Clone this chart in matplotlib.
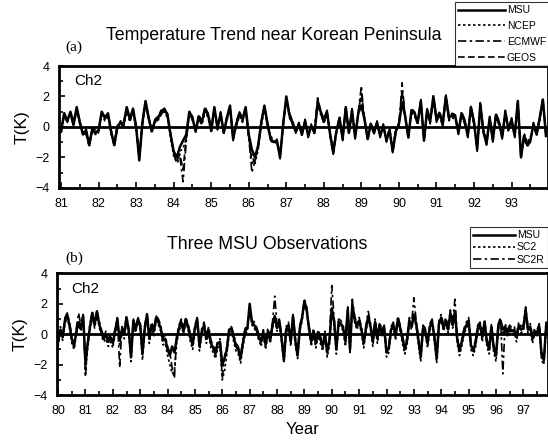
import numpy as np
import matplotlib
matplotlib.use("Agg")
import matplotlib.pyplot as plt
from matplotlib.ticker import MultipleLocator

plt.rcParams['font.family'] = ['Liberation Sans', 'DejaVu Sans']

# monthly Ch2 anomalies (K), 1981-1993
msu_a = [-0.3, 0.9, 0.4, 1.0, 0.2, 1.3, 0.3, -0.5, -0.2, -1.2, -0.1, -0.4,
         -0.2, 1.0, 0.6, 0.9, -0.3, -1.2, 0.0, 0.3, 0.2, 1.3, 0.5, 1.2,
         0.0, -2.2, 0.3, 1.7, 0.6, -0.3, 0.4, 0.6, 1.0, 1.2, 0.8, -0.5,
         -1.6, -2.0, -1.3, -0.9, -0.5, 1.0, 0.6, -0.3, 0.7, 0.3, 1.2, 0.8,
         -0.2, 1.3, -0.1, 0.9, -0.4, 0.6, 1.4, -0.8, 0.2, 0.9, 0.5, 1.3,
         -0.5, -1.5, -2.0, -1.2, 0.3, 1.4, 0.2, -0.8, -1.0, -0.9, -2.0, 0.2,
         2.0, 0.8, 0.3, -0.3, 0.2, -0.5, 0.4, -0.6, 0.1, -0.4, 1.5, 1.0,
         0.4, 1.0, -0.5, -1.7, -0.3, 0.6, -0.8, 1.3, -0.4, 1.1, -0.7, 0.9,
         1.4, 0.5, -0.8, 0.2, -0.4, 0.3, -0.6, 0.1, -0.9, -0.2, -1.6, -0.3,
         0.2, 1.6, 0.7, -0.7, 1.1, 0.9, 0.3, 1.7, -0.9, 1.1, 0.4, 2.0,
         0.5, 0.9, 0.2, 2.0, 0.6, 0.8, 0.7, -0.4, 0.9, 0.4, -0.6, 1.3,
         0.3, -1.5, 1.5, -0.3, -1.1, 0.6, -0.9, 0.8, 0.3, -0.7, 1.0, -0.2,
         0.5, -0.6, 1.7, -2.0, -0.6, -1.2, -0.9, 0.2, -0.5, 0.6, 1.8, -0.6]
ncep_a = [-0.1, 0.7, 0.3, 0.9, 0.1, 1.1, 0.2, -0.3, -0.4, -1.0, 0.0, -0.2,
          -0.4, 0.8, 0.4, 0.7, -0.5, -1.0, 0.1, 0.2, 0.0, 1.1, 0.4, 1.0,
          -0.2, -1.9, 0.2, 1.5, 0.5, -0.1, 0.3, 0.4, 0.9, 1.0, 0.6, -0.7,
          -1.9, -2.3, -1.6, -1.4, -0.8, 0.8, 0.5, -0.1, 0.5, 0.2, 1.0, 0.6,
          -0.4, 1.1, 0.0, 0.7, -0.2, 0.4, 1.2, -0.6, 0.0, 0.7, 0.4, 1.1,
          -0.8, -1.9, -2.4, -1.5, 0.1, 1.2, 0.1, -0.6, -0.9, -1.1, -1.8, 0.0,
          1.8, 0.7, 0.1, -0.2, 0.0, -0.3, 0.2, -0.4, 0.0, -0.2, 1.6, 0.8,
          0.3, 0.8, -0.3, -1.5, -0.1, 0.5, -0.6, 1.1, -0.2, 0.9, -0.5, 0.8,
          1.9, 0.4, -0.6, 0.0, -0.2, 0.2, -0.4, 0.0, -0.7, -0.1, -1.4, -0.1,
          0.1, 2.2, 0.5, -0.5, 0.9, 0.7, 0.2, 1.5, -0.7, 0.9, 0.3, 1.8,
          0.4, 0.7, 0.1, 1.8, 0.5, 0.6, 0.5, -0.2, 0.7, 0.3, -0.4, 1.1,
          0.2, -1.3, 1.3, -0.2, -0.9, 0.4, -0.7, 0.6, 0.2, -0.5, 0.9, 0.0,
          0.3, -0.4, 1.5, -1.8, -0.4, -1.0, -0.7, 0.1, -0.3, 0.4, 1.6, -0.4]
ecmwf_a = [-0.2, 0.8, 0.3, 0.8, 0.0, 1.2, 0.2, -0.4, -0.5, -1.3, -0.2, -0.3,
           -0.3, 0.9, 0.5, 0.8, -0.4, -1.1, 0.0, 0.1, 0.1, 1.2, 0.3, 1.1,
           -0.1, -2.0, 0.1, 1.6, 0.4, -0.2, 0.2, 0.5, 0.8, 1.1, 0.7, -0.6,
           -1.8, -2.4, -2.0, -3.6, -1.0, 0.9, 0.4, -0.2, 0.6, 0.1, 1.1, 0.7,
           -0.3, 1.2, -0.2, 0.8, -0.3, 0.5, 1.3, -0.7, 0.1, 0.8, 0.3, 1.2,
           -0.7, -3.0, -2.2, -1.4, 0.2, 1.3, 0.0, -0.7, -1.1, -1.0, -1.9, 0.1,
           1.9, 0.6, 0.2, -0.4, 0.1, -0.4, 0.3, -0.5, 0.0, -0.3, 1.9, 0.9,
           0.2, 0.9, -0.4, -1.6, -0.2, 0.4, -0.7, 1.2, -0.3, 1.0, -0.6, 1.0,
           2.7, 0.3, -0.7, 0.1, -0.3, 0.1, -0.5, 0.0, -0.8, -0.3, -1.5, -0.2,
           0.0, 2.9, 0.6, -0.6, 1.0, 0.8, 0.1, 1.6, -0.8, 1.0, 0.2, 1.9,
           0.3, 0.8, 0.0, 1.9, 0.4, 0.7, 0.6, -0.3, 0.8, 0.2, -0.5, 1.2,
           0.1, -1.4, 1.4, -0.4, -1.0, 0.5, -0.8, 0.7, 0.1, -0.6, 0.8, -0.1,
           0.4, -0.5, 1.6, -1.9, -0.5, -1.1, -0.8, 0.0, -0.4, 0.5, 1.7, -0.5]
geos_a = [-0.4, 0.8, 0.5, 0.9, 0.3, 1.2, 0.4, -0.4, -0.3, -1.1, -0.2, -0.5,
          -0.3, 0.9, 0.7, 0.8, -0.2, -1.3, -0.1, 0.4, 0.3, 1.2, 0.6, 1.1,
          0.1, -2.1, 0.4, 1.6, 0.7, -0.4, 0.5, 0.7, 1.1, 1.1, 0.9, -0.4,
          -1.7, -2.2, -1.8, -2.8, -0.7, 0.9, 0.7, -0.4, 0.8, 0.4, 1.3, 0.9,
          -0.1, 1.2, 0.0, 1.0, -0.5, 0.7, 1.3, -0.9, 0.3, 1.0, 0.6, 1.2,
          -0.6, -2.4, -2.1, -1.3, 0.4, 1.3, 0.3, -0.9, -1.1, -0.8, -2.1, 0.3,
          1.9, 0.9, 0.4, -0.4, 0.3, -0.6, 0.5, -0.7, 0.2, -0.5, 1.9, 1.1,
          0.5, 1.1, -0.6, -1.8, -0.4, 0.7, -0.9, 1.4, -0.5, 1.2, -0.8, 1.0,
          2.2, 0.6, -0.9, 0.3, -0.5, 0.4, -0.7, 0.2, -1.0, -0.3, -1.7, -0.4,
          0.3, 2.4, 0.8, -0.8, 1.2, 1.0, 0.4, 1.8, -1.0, 1.2, 0.5, 2.1,
          0.6, 1.0, 0.3, 2.1, 0.7, 0.9, 0.8, -0.5, 1.0, 0.5, -0.7, 1.4,
          0.4, -1.6, 1.6, -0.4, -1.2, 0.7, -1.0, 0.9, 0.4, -0.8, 1.1, -0.3,
          0.6, -0.7, 1.8, -2.1, -0.7, -1.3, -1.0, 0.3, -0.6, 0.7, 1.9, -0.7]

# monthly Ch2 anomalies (K), 1980-1997
msu_b = [-0.5, 0.3, -0.2, 0.9, 1.3, 0.6, -0.3, -0.8, 0.2, 0.8, 0.4, 1.2,
         -1.8, -0.6, 0.5, 1.4, 0.6, 1.5, 0.7, 0.1, -0.3, 0.0, -0.5, -0.2,
         -0.6, 0.2, 1.0, -0.4, 0.3, 0.0, 1.1, 0.2, -1.5, 0.9, 0.3, 1.0,
         0.6, -1.3, 0.4, 1.3, -0.3, 0.6, 0.2, 1.1, 0.8, 0.4, -0.4, -0.3,
         -1.0, -1.4, -0.8, -1.2, -0.3, 0.4, 0.8, 0.2, 1.0, 0.5, -0.2, -0.7,
         0.4, 1.0, -0.8, 0.2, 0.6, -0.3, 0.3, -0.6, -0.9, -1.3, -0.6, -0.5,
         -2.0, -1.6, -1.0, 0.3, 0.4, -0.2, -0.8, -1.0, -1.6, -0.6, 0.2, 0.4,
         2.0, 0.8, 0.6, 0.3, -0.2, -0.5, 0.1, -0.7, 0.2, -0.4, 0.6, 1.2,
         0.4, 0.9, -0.3, -1.7, 0.3, 0.6, -0.5, 1.2, -0.4, -1.4, 0.4, 1.1,
         2.2, 1.6, 0.4, -0.5, 0.2, -0.6, 0.1, -0.3, -0.8, 0.0, -1.2, -0.4,
         1.7, 0.9, -1.0, 0.8, 0.7, 0.4, -0.5, 1.6, -1.0, 2.0, 1.0, 0.5,
         0.9, 0.3, -0.6, 0.4, 1.2, 0.5, -0.5, 0.8, -0.3, 0.6, 0.1, 0.4,
         -1.2, -0.9, 0.3, 0.6, -0.1, 1.0, 0.4, -0.3, -1.0, -0.4, 0.9, 0.5,
         1.3, 0.7, -0.4, -1.5, 0.4, 0.2, -0.6, 0.5, 0.8, -0.2, -1.6, 0.7,
         1.1, 0.4, 0.9, 0.3, 1.4, 0.6, 1.5, -0.3, -1.1, -0.5, 0.2, 0.6,
         0.9, -0.7, -1.1, -0.6, 0.4, 0.6, -0.2, 0.8, -0.5, -1.0, 0.5, -0.9,
         -1.4, 0.5, 0.9, 0.3, 0.5, 0.1, 0.4, 0.2, 0.3, -0.2, 0.6, 0.3,
         0.4, 1.6, 0.3, 0.5, -0.3, 0.2, 0.1, 0.5, -1.4, -1.7, 0.6, 0.3]
sc2_b = [-0.8, 0.1, -0.4, 0.7, 1.1, 0.4, -0.6, -1.0, 0.0, 0.6, 0.2, 1.0,
         -2.6, -0.9, 0.3, 1.2, 0.4, 1.3, 0.5, -0.1, -0.5, -0.3, -0.8, -0.5,
         -0.9, 0.0, 0.8, -0.7, 0.1, -0.3, 0.9, 0.0, -1.8, 0.7, 0.1, 0.8,
         0.3, -1.7, 0.2, 1.1, -0.6, 0.4, -0.1, 0.9, 0.6, 0.2, -0.7, -0.6,
         -1.4, -2.0, -2.6, -2.4, -0.6, 0.2, 0.6, 0.0, 0.8, 0.3, -0.5, -1.0,
         0.2, 0.8, -1.1, 0.0, 0.4, -0.6, 0.1, -0.9, -1.2, -1.6, -0.9, -0.8,
         -3.0, -2.4, -1.3, 0.1, 0.2, -0.5, -1.1, -1.3, -1.9, -0.9, 0.0, 0.2,
         1.8, 0.6, 0.4, 0.1, -0.4, -0.8, -0.1, -1.0, 0.0, -0.6, 0.4, 1.0,
         0.2, 0.7, -0.5, -1.9, 0.1, 0.4, -0.8, 1.0, -0.7, -1.6, 0.2, 0.9,
         2.0, 1.4, 0.2, -0.8, 0.0, -0.9, -0.1, -0.6, -1.1, -0.2, -1.5, -0.7,
         1.5, 0.7, -1.3, 0.6, 0.5, 0.2, -0.8, 1.4, -1.3, 1.8, 0.8, 0.3,
         0.7, 0.1, -0.9, 0.2, 1.0, 0.3, -0.8, 0.6, -0.6, 0.4, -0.1, 0.2,
         -1.5, -1.2, 0.1, 0.4, -0.4, 0.8, 0.2, -0.6, -1.3, -0.7, 0.7, 0.3,
         1.1, 0.5, -0.7, -1.8, 0.2, 0.0, -0.9, 0.3, 0.6, -0.5, -1.9, 0.5,
         0.9, 0.2, 0.7, 0.1, 1.2, 0.4, 1.3, -0.6, -1.4, -0.8, 0.0, 0.4,
         0.7, -1.0, -1.4, -0.9, 0.2, 0.4, -0.5, 0.6, -0.8, -1.3, 0.3, -1.2,
         -1.8, 0.3, 0.7, 0.1, 0.3, -0.1, 0.2, 0.0, 0.1, -0.5, 0.4, 0.1,
         0.2, 1.4, 0.1, 0.3, -0.6, 0.0, -0.1, 0.3, -1.7, -2.0, 0.4, 0.1]
sc2r_b = [-0.3, 0.5, 0.0, 1.1, 1.4, 0.8, -0.1, -0.6, 0.4, 1.4, 0.6, 1.3,
          -2.8, -0.4, 0.7, 1.5, 0.8, 1.6, 0.9, 0.3, -0.1, 0.2, -0.3, -0.1,
          -0.4, 0.4, 1.1, -2.2, 0.5, 0.2, 1.2, 0.4, -1.3, 1.0, 0.5, 1.1,
          0.8, -1.1, 0.6, 1.4, -0.1, 0.8, 0.4, 1.2, 1.0, 0.6, -0.2, -0.1,
          -0.8, -1.2, -2.2, -2.9, -0.1, 0.6, 1.0, 0.4, 1.1, 0.7, 0.0, -0.5,
          0.6, 1.1, -0.6, 0.4, 0.8, -0.1, 0.5, -0.4, -0.7, -1.1, -0.4, -0.3,
          -2.9, -1.4, -0.8, 0.4, 0.5, 0.0, -0.6, -0.8, -1.4, -0.4, 0.4, 0.5,
          1.3, 1.0, 0.8, 0.5, 0.0, -0.3, 0.3, -0.5, 0.4, -0.2, 0.8, 2.5,
          0.6, 1.0, -0.1, -1.5, 0.5, 0.8, -0.3, 1.3, -0.2, -1.2, 0.6, 1.2,
          2.3, 1.8, 0.6, -0.3, 0.4, -0.4, 0.3, -0.1, -0.6, 0.2, -1.0, -0.2,
          3.2, 1.1, -0.8, 1.0, 0.9, 0.6, -0.3, 1.8, -0.8, 2.3, 1.2, 0.7,
          1.1, 0.5, -0.4, 0.6, 1.5, 0.7, -0.3, 1.0, -0.1, 0.8, 0.3, 0.6,
          -1.0, -0.7, 0.5, 0.8, 0.1, 1.2, 0.6, -0.1, -0.8, -0.2, 1.1, 0.7,
          2.4, 0.9, -0.2, -1.3, 0.6, 0.4, -0.4, 0.7, 1.0, 0.0, -1.4, 0.9,
          1.3, 0.6, 1.1, 0.5, 1.6, 0.8, 2.3, -0.1, -0.9, -0.3, 0.4, 0.8,
          1.1, -0.5, -0.9, -0.4, 0.6, 0.8, 0.0, 1.0, -0.3, -0.8, 0.7, -0.7,
          -1.2, 0.7, 1.1, -2.6, 0.7, 0.3, 0.6, 0.4, 0.5, 0.0, 0.8, 0.5,
          0.6, 1.8, 0.5, 0.7, -0.1, 0.4, 0.3, 0.7, -1.2, -1.5, 0.8, 0.5]

t_a = 81 + np.arange(len(msu_a)) / 12.0
t_b = 80 + np.arange(len(msu_b)) / 12.0

fig = plt.figure(figsize=(5.48, 4.43), dpi=100)
ax1 = fig.add_axes([0.108, 0.576, 0.892, 0.275])
ax2 = fig.add_axes([0.104, 0.108, 0.896, 0.275])

dot = (0, (1.5, 1.5))
dashdot = (0, (5, 2, 1.5, 2))
dash = (0, (4, 2))

l1, = ax1.plot(t_a, msu_a, color='k', lw=1.8, ls='-', label='MSU')
l2, = ax1.plot(t_a, ncep_a, color='k', lw=1.2, ls=dot, label='NCEP')
l3, = ax1.plot(t_a, ecmwf_a, color='k', lw=1.2, ls=dashdot, label='ECMWF')
l4, = ax1.plot(t_a, geos_a, color='k', lw=1.2, ls=dash, label='GEOS')

m1, = ax2.plot(t_b, msu_b, color='k', lw=1.8, ls='-', label='MSU')
m2, = ax2.plot(t_b, sc2_b, color='k', lw=1.2, ls=dot, label='SC2')
m3, = ax2.plot(t_b, sc2r_b, color='k', lw=1.2, ls=dashdot, label='SC2R')

for ax, x0, x1, first in [(ax1, 80.95, 93.97, 81), (ax2, 79.96, 97.9, 80)]:
    ax.axhline(0, color='k', lw=2.0)
    ax.set_xlim(x0, x1)
    ax.set_ylim(-4, 4)
    ax.set_xticks(np.arange(first, int(x1) + 1))
    ax.set_xticklabels(['%02d' % y for y in range(first, int(x1) + 1)])
    ax.xaxis.set_minor_locator(MultipleLocator(0.5))
    ax.set_yticks([-4, -2, 0, 2, 4])
    ax.yaxis.set_minor_locator(MultipleLocator(1))
    ax.tick_params(which='both', direction='in', top=False, right=False,
                   labelsize=9, width=1.2)
    ax.tick_params(which='major', length=4, pad=7)
    ax.tick_params(which='minor', length=3)
    for s in ax.spines.values():
        s.set_linewidth(2.0)
    ax.set_ylabel('T(K)', fontsize=12.5, labelpad=4)
    ax.text(0.03, 0.84, 'Ch2', transform=ax.transAxes, fontsize=11)

ax2.set_xlabel('Year', fontsize=12, labelpad=4)

fig.text(0.50, 0.92, 'Temperature Trend near Korean Peninsula', ha='center',
         va='center', fontsize=12.8)
fig.text(0.12, 0.893, '(a)', family='Liberation Serif', fontsize=11,
         ha='left', va='center')
fig.text(0.487, 0.447, 'Three MSU Observations', ha='center', va='center',
         fontsize=12.8)
fig.text(0.12, 0.418, '(b)', family='Liberation Serif', fontsize=11,
         ha='left', va='center')

leg_kw = dict(fontsize=7.5, frameon=True, fancybox=False, edgecolor='k',
              handletextpad=0.2, borderpad=0.3, borderaxespad=0)
lg1 = fig.legend(handles=[l1, l2, l3, l4], loc='upper left',
                 bbox_to_anchor=(0.83, 0.995), labelspacing=0.55,
                 handlelength=4.5, **leg_kw)
lg2 = fig.legend(handles=[m1, m2, m3], loc='upper left',
                 bbox_to_anchor=(0.858, 0.487), labelspacing=0.2,
                 handlelength=4.0, **leg_kw)
for lg in (lg1, lg2):
    lg.get_frame().set_linewidth(0.8)

fig.savefig('out.png', dpi=100)
